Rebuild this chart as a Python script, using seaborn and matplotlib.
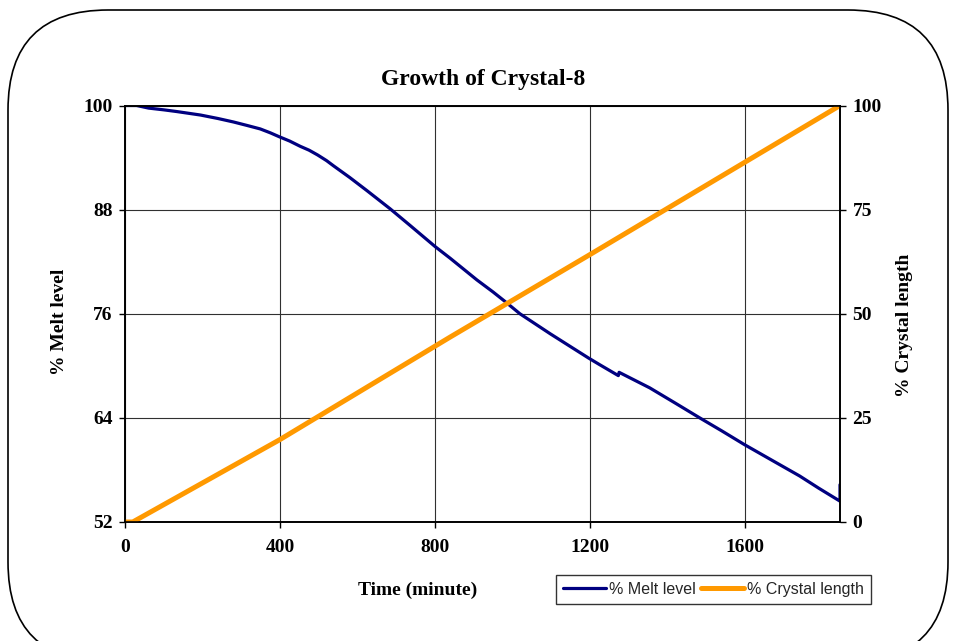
import numpy as np
import pandas as pd
import matplotlib
matplotlib.use("Agg")
import matplotlib.pyplot as plt
from matplotlib.patches import FancyBboxPatch
import seaborn as sns

# Melt level (% of initial) against elapsed time (minutes)
melt_time = [0, 30, 61, 100, 134, 195, 240, 280, 315, 349, 375, 398, 425, 452,
             475, 497, 520, 538, 580, 624, 684, 735, 800, 839, 908, 950, 981,
             1019, 1097, 1150, 1196, 1226, 1273, 1275, 1354, 1420, 1483, 1540,
             1598, 1670, 1741, 1790, 1845, 1845]
melt_level = [100, 100, 99.7, 99.5, 99.3, 98.9, 98.5, 98.1, 97.7, 97.3, 96.85,
              96.4, 95.9, 95.3, 94.85, 94.3, 93.65, 93.05, 91.7, 90.2, 88.1,
              86.2, 83.75, 82.4, 79.9, 78.5, 77.4, 76.0, 73.7, 72.2, 70.9, 70.1,
              68.87, 69.25, 67.46, 65.7, 64.0, 62.5, 60.93, 59.1, 57.3, 55.9,
              54.4, 56.3]

# Crystal length (% of final) against elapsed time (minutes)
crystal_time = [0, 20, 400, 839, 1196, 1598, 1845]
crystal_length = [0, 0, 19.8, 44.4, 64.0, 86.3, 100]

x_ticks = [0, 400, 800, 1200, 1600]
melt_ticks = [52, 64, 76, 88, 100]
crystal_ticks = [0, 25, 50, 75, 100]

sns.set_theme(style="white")
plt.rcParams["font.family"] = ["Liberation Serif", "DejaVu Serif"]

melt_df = pd.DataFrame({"t": melt_time, "v": melt_level})
crystal_df = pd.DataFrame({"t": crystal_time, "v": crystal_length})

W, H = 954, 641
fig = plt.figure(figsize=(W / 100, H / 100), dpi=100)
fig.patch.set_facecolor("white")

# rounded frame around the whole chart (display pixels)
frame = FancyBboxPatch((8, H - 662), 940, 652,
                       boxstyle="round,pad=0,rounding_size=100",
                       transform=None, fill=False, edgecolor="black",
                       linewidth=1.2, clip_on=False)
fig.patches.append(frame)

ax = fig.add_axes([125 / W, 1 - 522 / H, (840 - 125) / W, (522 - 105.5) / H])
ax2 = ax.twinx()

sns.lineplot(data=melt_df, x="t", y="v", ax=ax, color="#000080", linewidth=2.3,
             sort=False, estimator=None, label="% Melt level", legend=False)
sns.lineplot(data=crystal_df, x="t", y="v", ax=ax2, color="#FF9900", linewidth=3.6,
             sort=False, estimator=None, label="% Crystal length", legend=False)

ax.set_xlim(0, 1845)
ax.set_ylim(52, 100)
ax2.set_ylim(0, 100)
ax.set_xticks(x_ticks)
ax.set_yticks(melt_ticks)
ax2.set_yticks(crystal_ticks)

ax.grid(True, color="#303030", linewidth=0.8)
ax.set_axisbelow(True)

for a in (ax, ax2):
    for s in a.spines.values():
        s.set_visible(True)
        s.set_color("black")
        s.set_linewidth(1.2)
    a.set_xlabel("")
    a.set_ylabel("")
ax.tick_params(axis="both", direction="out", length=4, width=1, color="black",
               labelsize=14, pad=5, left=True, bottom=True)
ax2.tick_params(axis="y", direction="out", length=4, width=1, color="black",
                labelsize=14, pad=5, right=True)
for lbl in ax.get_xticklabels() + ax.get_yticklabels() + ax2.get_yticklabels():
    lbl.set_fontweight("bold")
    lbl.set_color("black")
ax.tick_params(axis="x", pad=8)

fig.text(483 / W, 1 - 80 / H, "Growth of Crystal-8", ha="center", va="center",
         fontsize=17, fontweight="bold", color="black")
fig.text(60 / W, 1 - 322 / H, "% Melt level", ha="center", va="center",
         rotation=90, fontsize=14, fontweight="bold", color="black")
fig.text(905 / W, 1 - 325 / H, "% Crystal length", ha="center", va="center",
         rotation=90, fontsize=14, fontweight="bold", color="black")
fig.text(418 / W, 1 - 590 / H, "Time (minute)", ha="center", va="center",
         fontsize=14, fontweight="bold", color="black")

handles = ax.get_lines()[:1] + ax2.get_lines()[:1]
leg = fig.legend(handles, ["% Melt level", "% Crystal length"],
                 loc="center", bbox_to_anchor=(713.5 / W, 1 - 589.5 / H),
                 ncol=2, frameon=True, fancybox=False, edgecolor="black",
                 handlelength=2.7, handletextpad=0.2, columnspacing=0.3,
                 borderpad=0.45, borderaxespad=0,
                 prop={"family": "Liberation Sans", "size": 11.5})
leg.get_frame().set_linewidth(1.0)

fig.savefig("out.png", dpi=100, facecolor="white")
